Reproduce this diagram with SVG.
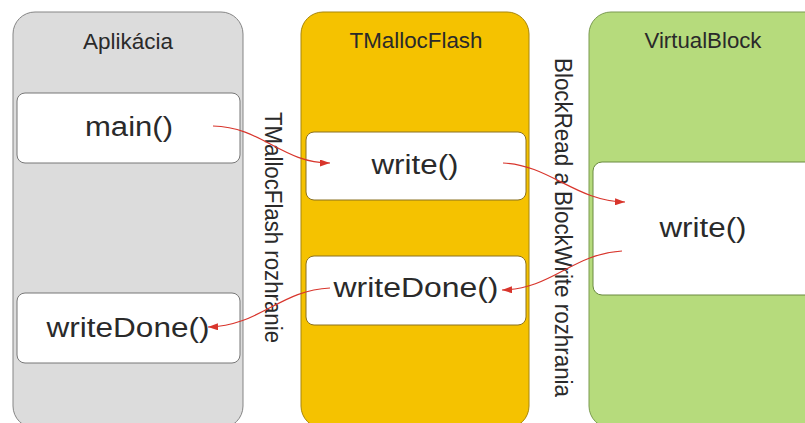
<svg xmlns="http://www.w3.org/2000/svg" width="805" height="423" viewBox="0 0 805 423">
<defs>
<style>
.t{font-family:"Liberation Sans",Arial,sans-serif;fill:#2a2a2a;text-anchor:middle}
.title{font-size:22px}
.fn{font-size:27px}
.vt{font-family:"Liberation Sans",Arial,sans-serif;fill:#2a2a2a;font-size:23px}
.box{fill:#ffffff;stroke-width:1}
.conn{fill:none;stroke:#d8352c;stroke-width:1.2}
</style>
<marker id="ah" viewBox="0 0 10 7" refX="10" refY="3.5" markerWidth="10" markerHeight="7" markerUnits="userSpaceOnUse" orient="auto">
<path d="M0,0 L10,3.5 L0,7 z" fill="#d8352c"/>
</marker>
</defs>
<rect width="805" height="423" fill="#ffffff"/>

<g id="aplikacia">
<rect x="13" y="12" width="230" height="416" rx="22" fill="#dcdcdc" stroke="#858585"/>
<text class="t title" x="128" y="49" textLength="90" lengthAdjust="spacingAndGlyphs">Aplikácia</text>
</g>
<g id="tmallocflash">
<rect x="301" y="12" width="228" height="416" rx="22" fill="#f5c200" stroke="#a8860a"/>
<text class="t title" x="416" y="48" textLength="133" lengthAdjust="spacingAndGlyphs">TMallocFlash</text>
</g>
<g id="virtualblock">
<rect x="589" y="12" width="240" height="416" rx="22" fill="#b6db7c" stroke="#7a9a50"/>
<text class="t title" x="703" y="48" textLength="117" lengthAdjust="spacingAndGlyphs">VirtualBlock</text>
</g>

<g id="main">
<rect class="box" x="17" y="93" width="223" height="70" rx="8" stroke="#777777"/>
<text class="t fn" x="129" y="136" textLength="88" lengthAdjust="spacingAndGlyphs">main()</text>
</g>
<g id="writeDone-app">
<rect class="box" x="17" y="293" width="223" height="70" rx="8" stroke="#777777"/>
<text class="t fn" x="128" y="337" textLength="163" lengthAdjust="spacingAndGlyphs">writeDone()</text>
</g>
<g id="write-tmf">
<rect class="box" x="306" y="132" width="220" height="68" rx="8" stroke="#8a7020"/>
<text class="t fn" x="415" y="174" textLength="87" lengthAdjust="spacingAndGlyphs">write()</text>
</g>
<g id="writeDone-tmf">
<rect class="box" x="306" y="256" width="220" height="69" rx="8" stroke="#8a7020"/>
<text class="t fn" x="416" y="297" textLength="165" lengthAdjust="spacingAndGlyphs">writeDone()</text>
</g>
<g id="write-vb">
<rect class="box" x="593" y="162" width="230" height="133" rx="9" stroke="#6a8a40"/>
<text class="t fn" x="703" y="237" textLength="87" lengthAdjust="spacingAndGlyphs">write()</text>
</g>

<g id="label-tmf-iface">
<text class="vt" x="265" y="112" transform="rotate(90 265 112)" textLength="231" lengthAdjust="spacingAndGlyphs">TMallocFlash rozhranie</text>
</g>
<g id="label-block-iface">
<text class="vt" x="555" y="58" transform="rotate(90 555 58)" textLength="339" lengthAdjust="spacingAndGlyphs">BlockRead a BlockWrite rozhrania</text>
</g>

<g id="connectors">
<path class="conn" d="M213,126 C262,127 282,163 330,163" marker-end="url(#ah)"/>
<path class="conn" d="M503,163 C550,165 575,201 625,202" marker-end="url(#ah)"/>
<path class="conn" d="M622,251 C572,254 552,289 502,290" marker-end="url(#ah)"/>
<path class="conn" d="M330,288 C280,290 260,326 208,327" marker-end="url(#ah)"/>
</g>
</svg>
